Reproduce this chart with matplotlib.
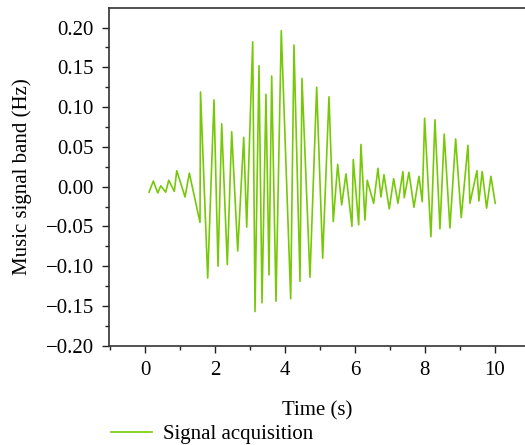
import numpy as np
import matplotlib
matplotlib.use("Agg")
import matplotlib.pyplot as plt
from matplotlib.ticker import MultipleLocator, FuncFormatter

# values
time_s = [0.114, 0.237, 0.363, 0.449, 0.591, 0.677, 0.837, 0.906, 1.143, 1.266,
          1.571, 1.586, 1.791, 1.971, 2.086, 2.191, 2.351, 2.477, 2.649, 2.820,
          2.906, 3.077, 3.143, 3.257, 3.343, 3.457, 3.543, 3.620, 3.743, 3.894,
          4.163, 4.257, 4.429, 4.486, 4.714, 4.906, 5.077, 5.257, 5.380, 5.506,
          5.620, 5.743, 5.914, 5.951, 6.106, 6.171, 6.286, 6.351, 6.534, 6.657,
          6.743, 6.829, 6.980, 7.106, 7.229, 7.371, 7.409, 7.543, 7.686, 7.829,
          7.923, 7.991, 8.171, 8.286, 8.429, 8.551, 8.714, 8.877, 9.037, 9.229,
          9.286, 9.486, 9.543, 9.637, 9.763, 9.886, 10.009]
band = [-0.007, 0.007, -0.008, 0.001, -0.007, 0.008, -0.006, 0.020, -0.013, 0.017,
        -0.045, 0.119, -0.115, 0.109, -0.100, 0.079, -0.098, 0.069, -0.081, 0.062,
        -0.051, 0.182, -0.157, 0.152, -0.146, 0.116, -0.111, 0.139, -0.144, 0.196,
        -0.141, 0.178, -0.119, 0.136, -0.114, 0.125, -0.090, 0.113, -0.044, 0.028,
        -0.023, 0.016, -0.050, 0.034, -0.048, 0.053, -0.042, 0.008, -0.021, 0.023,
        -0.013, 0.015, -0.028, 0.010, -0.021, 0.019, -0.014, 0.018, -0.026, 0.013,
        -0.019, 0.086, -0.063, 0.084, -0.053, 0.066, -0.052, 0.060, -0.039, 0.052,
        -0.021, 0.020, -0.018, 0.019, -0.027, 0.013, -0.021]

plt.rcParams['font.family'] = ['Liberation Serif', 'DejaVu Serif']
plt.rcParams['font.size'] = 15

fig = plt.figure(figsize=(5.25, 4.45), dpi=100)
ax = fig.add_axes([109/525, 1-345.7/445, 1-109/525, (345.7-8)/445])

ax.plot(time_s, band, color='#78C80A', lw=1.2, label='Signal acquisition')

ax.set_xlim(-1.03, 10.86)
ax.set_ylim(-0.20, 0.2246)
ax.xaxis.set_major_locator(MultipleLocator(2))
ax.xaxis.set_minor_locator(MultipleLocator(1))
ax.yaxis.set_major_locator(MultipleLocator(0.05))
ax.yaxis.set_minor_locator(MultipleLocator(0.025))
ax.yaxis.set_major_formatter(FuncFormatter(lambda v, p: f'{v:.2f}'.replace('-', '\u2212')))
ax.tick_params(which='major', direction='out', length=5, width=1, color='#222222')
ax.tick_params(which='minor', direction='out', length=3, width=1, color='#222222')
ax.tick_params(axis='x', which='major', pad=6)
ax.tick_params(axis='y', which='major', pad=6)
ax.spines['right'].set_visible(False)
for s in ['left', 'bottom', 'top']:
    ax.spines[s].set_color('#333333')
    ax.spines[s].set_linewidth(1.2)

ax.set_xlabel('Time (s)', labelpad=15)
ax.set_ylabel('Music signal band (Hz)', labelpad=10)

fig.legend(loc='center left', bbox_to_anchor=(0.195, 0.024), frameon=False,
           handlelength=2.0, handletextpad=0.5, borderaxespad=0)

fig.savefig('out.png', dpi=100)
